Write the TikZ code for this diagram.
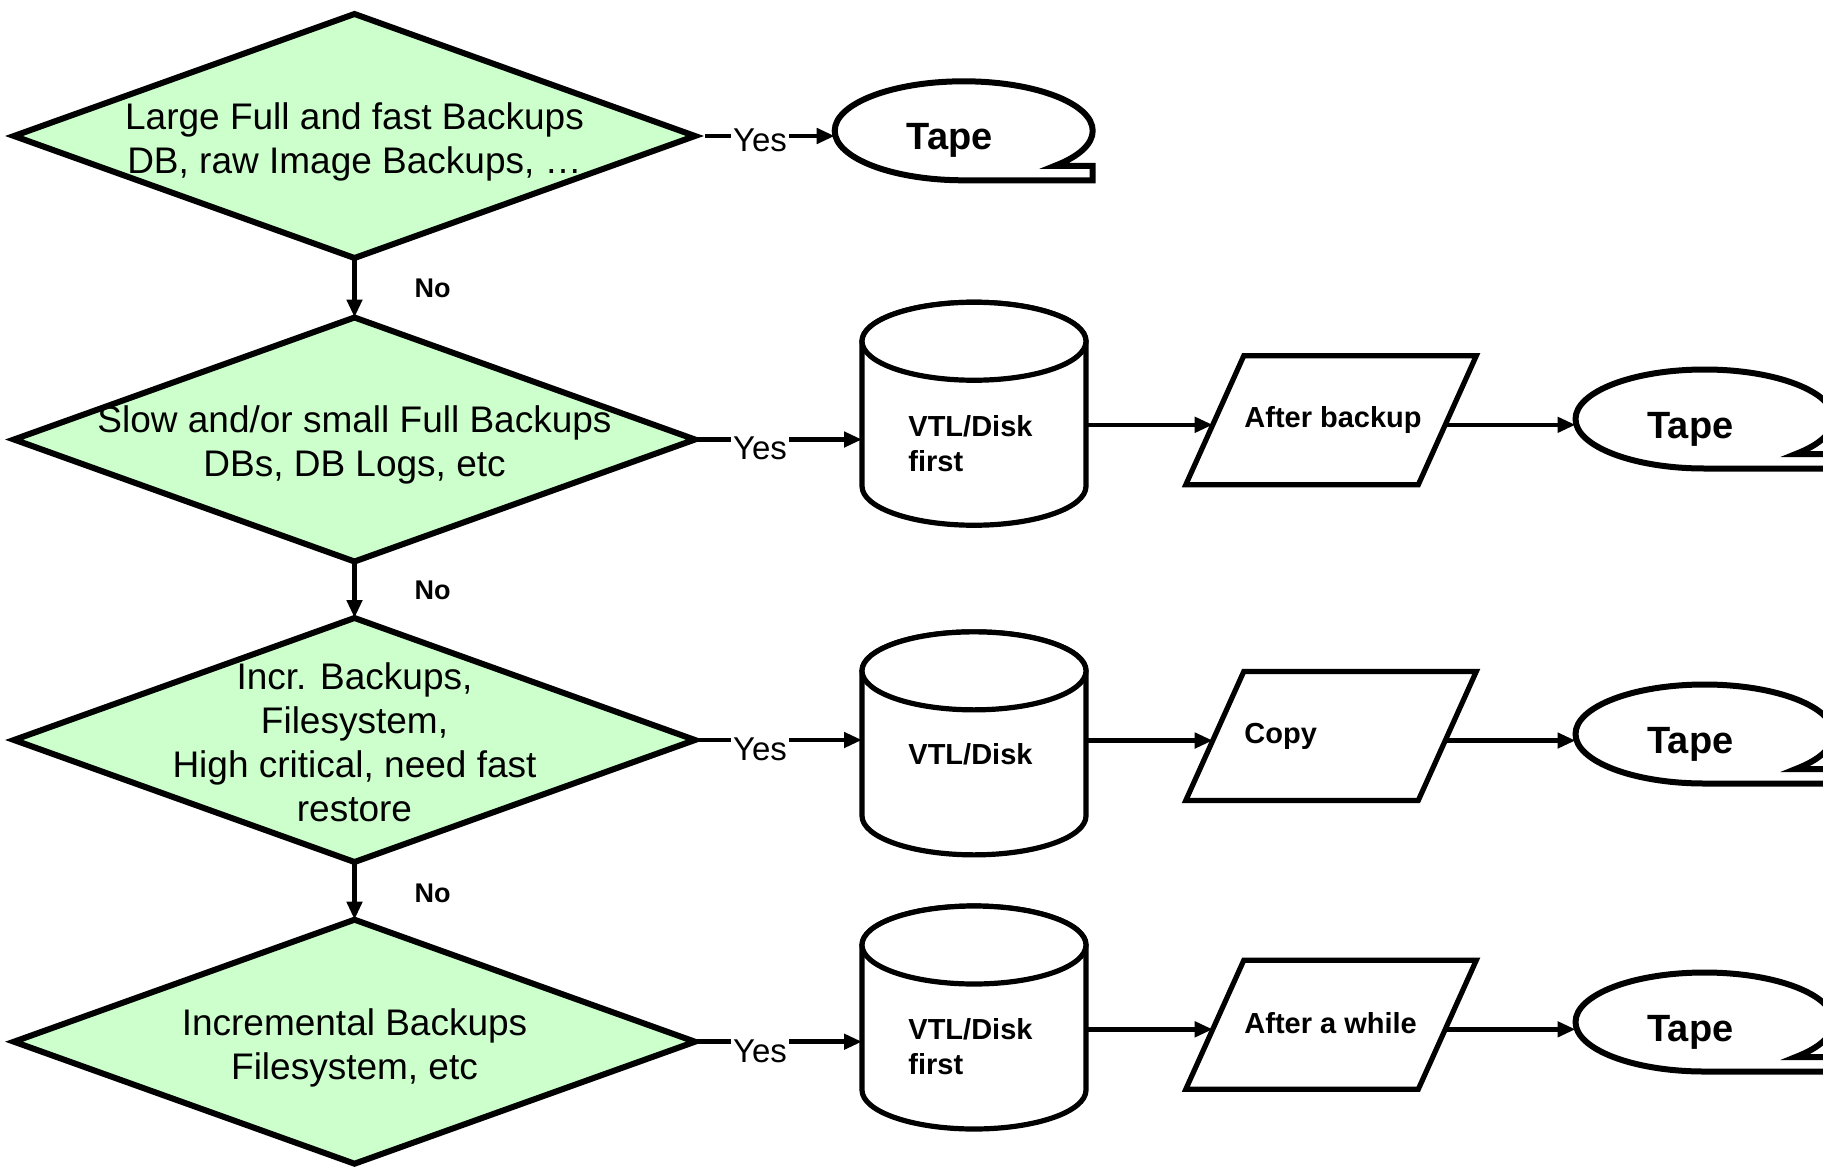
\documentclass[tikz,border=0pt]{standalone}
\usepackage{fontspec}
\setmainfont{Liberation Sans}
\usetikzlibrary{shapes.geometric,arrows.meta,calc}
\definecolor{decisiongreen}{HTML}{CCFFCC}

\tikzset{
  decision/.style={diamond, draw=black, line width=3pt, fill=decisiongreen,
    inner sep=0pt, outer sep=0pt, minimum width=340.5pt, minimum height=122pt},
  dtext/.style={align=center, inner sep=0pt, font=\fontsize{18.5}{22}\selectfont},
  flow/.style={line width=2.3pt, -{Triangle[length=9pt,width=7.5pt]}},
  yeslbl/.style={fill=white, inner sep=1.2pt, font=\fontsize{16.5}{18}\selectfont},
  nolbl/.style={inner sep=0pt, font=\bfseries\fontsize{13.5}{16}\selectfont},
  tapebox/.style={ellipse, draw=none, inner sep=0pt, outer sep=0pt,
    minimum width=129pt, minimum height=49.5pt},
  tapeline/.style={draw=black, line width=3pt, fill=white},
  tapetext/.style={inner sep=0pt, font=\bfseries\fontsize{19}{22}\selectfont},
  diskbox/.style={rectangle, draw=none, inner sep=0pt, outer sep=0pt,
    minimum width=112pt, minimum height=111.5pt},
  diskline/.style={draw=black, line width=2.6pt, fill=white},
  boldtext/.style={align=left, inner sep=0pt, anchor=west,
    font=\bfseries\fontsize{14.5}{17.5}\selectfont},
  iobox/.style={rectangle, draw=none, inner sep=0pt, outer sep=0pt,
    minimum width=145.25pt, minimum height=64.5pt},
  ioline/.style={draw=black, line width=2.6pt, fill=white, line join=miter},
}

% magnetic tape symbol: ellipse with a tail at the lower right
\newcommand{\tapesymbol}[2]{%
  \node[tapebox] (#1) at (#2) {};
  \draw[tapeline] (#1.south)
    arc[start angle=270, end angle=-45, x radius=64.5pt, y radius=24.75pt]
    -- ++(18.9pt,0pt) -- (#1.south -| #1.east) -- cycle;
  \node[tapetext] (#1l) at ([xshift=-7pt,yshift=-5pt]#1.center) {Tape};
}

% disk cylinder drawn round a named box
\newcommand{\disksymbol}[2]{%
  \node[diskbox] (#1) at (#2) {};
  \draw[diskline] ([yshift=-19.5pt]#1.north west) -- ([yshift=19.5pt]#1.south west)
    arc[start angle=180, end angle=360, x radius=56pt, y radius=19.5pt]
    -- ([yshift=-19.5pt]#1.north east)
    arc[start angle=0, end angle=180, x radius=56pt, y radius=19.5pt] -- cycle;
  \draw[diskline] ([yshift=-19.5pt]#1.north) ellipse[x radius=56pt, y radius=19.5pt];
}

% slanted data box (parallelogram) with entry/exit points on its slanted sides
\newcommand{\iosymbol}[2]{%
  \node[iobox] (#1) at (#2) {};
  \draw[ioline] (#1.south west) -- ([xshift=-29pt]#1.south east) -- (#1.north east)
    -- ([xshift=29pt]#1.north west) -- cycle;
  \coordinate (#1in) at ($(#1.south west)!0.465!([xshift=29pt]#1.north west)$);
  \coordinate (#1out) at ($([xshift=-29pt]#1.south east)!0.465!(#1.north east)$);
}

\begin{document}
\begin{tikzpicture}[x=0.5pt, y=-0.5pt]
\useasboundingbox (0,0) rectangle (1823,1166);
\clip (0,0) rectangle (1823,1166);

% decisions
\node[decision] (d1) at (354.5,136) {};
\node[decision] (d2) at (354.5,439.5) {};
\node[decision] (d3) at (354.5,740) {};
\node[decision] (d4) at (354.5,1041.7) {};

\node[dtext] (d1t) at (354.5,141.5) {Large Full and fast Backups\\DB, raw Image Backups, …};
\node[dtext] (d2t) at (354.5,444.5) {Slow and/or small Full Backups\\DBs, DB Logs, etc};
\node[dtext] (d3t) at (354.5,742) {Incr. Backups,\\Filesystem,\\High critical, need fast\\restore};
\node[dtext] (d4t) at (354.5,1047.5) {Incremental Backups\\Filesystem, etc};

% storage targets
\tapesymbol{t1}{963.7,130.8}

\disksymbol{c2}{974,413.75}
\disksymbol{c3}{974,743.35}
\disksymbol{c4}{974,1017.5}

\node[boldtext] (c2t) at (908,444) {VTL/Disk\\first};
\node[boldtext] (c3t) at (908,754.5) {VTL/Disk};
\node[boldtext] (c4t) at (908,1047) {VTL/Disk\\first};

\iosymbol{p2}{1331,420.3}
\iosymbol{p3}{1331,736}
\iosymbol{p4}{1331,1024.8}

\node[boldtext] (p2t) at (1244,419.7) {After backup};
\node[boldtext] (p3t) at (1244,736) {Copy};
\node[boldtext] (p4t) at (1244,1023) {After a while};

\tapesymbol{t2}{1704.5,419}
\tapesymbol{t3}{1704.5,734}
\tapesymbol{t4}{1704.5,1022}

% "No" chain
\draw[flow] (d1.south) -- (d2.north);
\draw[flow] (d2.south) -- (d3.north);
\draw[flow] (d3.south) -- (d4.north);
\node[nolbl] (n1) at (432.5,288) {No};
\node[nolbl] (n2) at (432.5,590.5) {No};
\node[nolbl] (n3) at (432.5,893) {No};

% "Yes" branches
\draw[flow, shorten <=5pt] (d1.east) -- (d1.east -| t1.west);
\draw[flow] (d2.east) -- (d2.east -| c2.west);
\draw[flow] (d3.east) -- (d3.east -| c3.west);
\draw[flow] (d4.east) -- (d4.east -| c4.west);

\node[yeslbl] (y1) at (760,140.5) {Yes};
\node[yeslbl] (y2) at (760,448.5) {Yes};
\node[yeslbl] (y3) at (760,749) {Yes};
\node[yeslbl] (y4) at (760,1051) {Yes};

% disk -> copy step -> tape
\draw[flow] (c2.east |- p2in) -- (p2in);
\draw[flow] (p2out) -- (t2.west |- p2out);
\draw[flow] (c3.east |- p3in) -- (p3in);
\draw[flow] (p3out) -- (t3.west |- p3out);
\draw[flow] (c4.east |- p4in) -- (p4in);
\draw[flow] (p4out) -- (t4.west |- p4out);
\end{tikzpicture}
\end{document}
